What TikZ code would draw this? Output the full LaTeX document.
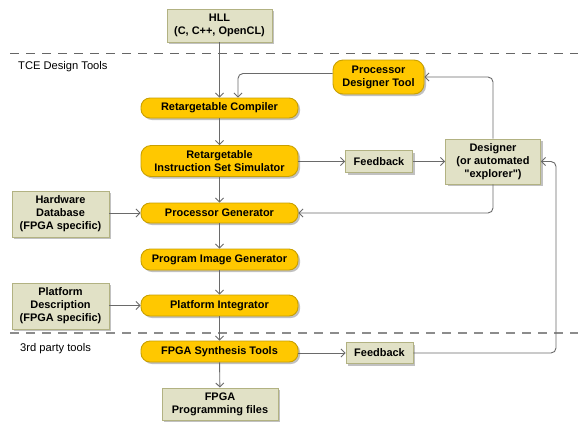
\documentclass[tikz,border=0pt]{standalone}
\usepackage{fontspec}
\setmainfont{Liberation Sans}
\usetikzlibrary{arrows.meta,shadows,calc}
\definecolor{ylw}{HTML}{FFC800}
\definecolor{ylwb}{HTML}{C9A000}
\definecolor{bge}{HTML}{E1E1C6}
\definecolor{bgeb}{HTML}{B2B282}
\definecolor{lgray}{HTML}{6A6A6A}
\begin{document}
\begin{tikzpicture}[x=1bp,y=-1bp,
  base/.style={font=\bfseries\fontsize{11}{13}\selectfont, align=center, inner sep=0pt,
    line width=0.9bp, drop shadow={shadow xshift=2bp, shadow yshift=-2bp, fill=black!30, opacity=0.8}},
  ybox/.style={base, draw=ylwb, fill=ylw, rounded corners=9bp, minimum width=157bp},
  gbox/.style={base, draw=bgeb, fill=bge},
  conn/.style={draw=lgray, line width=0.9bp, -{Straight Barb[length=4bp,width=8bp]}},
  sep/.style={draw=black!60, line width=1bp, dash pattern=on 9bp off 7bp},
  lbl/.style={font=\fontsize{11.2}{13}\selectfont, anchor=west, inner sep=0pt}
]
\useasboundingbox (0,0) rectangle (578,426);
\fill[white] (0,0) rectangle (578,426);

\draw[sep] (10,53) -- (578,53);
\draw[sep, draw=black!45, line width=1.4bp] (10,333) -- (578,333);

\node[lbl] (tce) at (18,67) {TCE Design Tools};
\node[lbl] (third) at (20,349) {3rd party tools};

\node[gbox, minimum width=105bp, minimum height=33bp] (hll) at (219.5,25.5) {HLL\\(C, C++, OpenCL)};
\node[ybox, minimum height=20bp] (comp) at (219.5,108) {Retargetable Compiler};
\node[ybox, minimum height=31bp, rounded corners=10bp] (iss) at (219.5,161) {Retargetable\\Instruction Set Simulator};
\node[ybox, minimum height=20bp] (pgen) at (219.5,213) {Processor Generator};
\node[ybox, minimum height=21bp] (pimg) at (219.5,259.5) {Program Image Generator};
\node[ybox, minimum height=21bp] (pint) at (219.5,305.5) {Platform Integrator};
\node[ybox, minimum height=21bp] (synth) at (219.5,351.5) {FPGA Synthesis Tools};
\node[gbox, minimum width=116bp, minimum height=32bp] (prog) at (220,404) {FPGA\\Programming files};

\node[ybox, minimum width=91bp, minimum height=34bp, rounded corners=10bp] (pdt) at (378.5,77) {Processor\\Designer Tool};
\node[gbox, minimum width=67bp, minimum height=22bp] (fb1) at (379,161.5) {Feedback};
\node[gbox, minimum width=95bp, minimum height=45bp] (des) at (493,161.5) {Designer\\(or automated\\\textquotedbl explorer\textquotedbl)};
\node[gbox, minimum width=97bp, minimum height=46bp] (hw) at (60.5,214) {Hardware\\Database\\(FPGA specific)};
\node[gbox, minimum width=97bp, minimum height=46bp] (pd) at (60.5,306) {Platform\\Description\\(FPGA specific)};
\node[gbox, minimum width=67bp, minimum height=21bp] (fb2) at (379.5,353) {Feedback};

\coordinate (pdtl) at ([yshift=3.5bp]pdt.west);
\coordinate (rt) at (556,250);

\draw[conn] (hll) -- (comp);
\draw[conn] (comp) -- (iss);
\draw[conn] (iss) -- (pgen);
\draw[conn] (pgen) -- (pimg);
\draw[conn] (pimg) -- (pint);
\draw[conn] (pint) -- (synth);
\draw[conn] (synth) -- (prog);

\draw[conn, rounded corners=5bp] (pdtl) -| ([xshift=18.5bp]comp.north);
\draw[conn, rounded corners=5bp] (des.north) |- (pdt.east);
\draw[conn, rounded corners=5bp] (des.south) |- (pgen.east);
\draw[conn] (fb1.west -| iss.east) -- (fb1.west);
\draw[conn] (fb1.east) -- (des.west |- fb1.east);
\draw[conn] (hw.east |- pgen) -- (pgen.west);
\draw[conn] (pd.east |- pint) -- (pint.west);
\draw[conn] (synth.east |- fb2) -- (fb2.west);
\draw[conn, rounded corners=5bp] (fb2.east) -| (rt |- des.east) -- (des.east);
\end{tikzpicture}
\end{document}
